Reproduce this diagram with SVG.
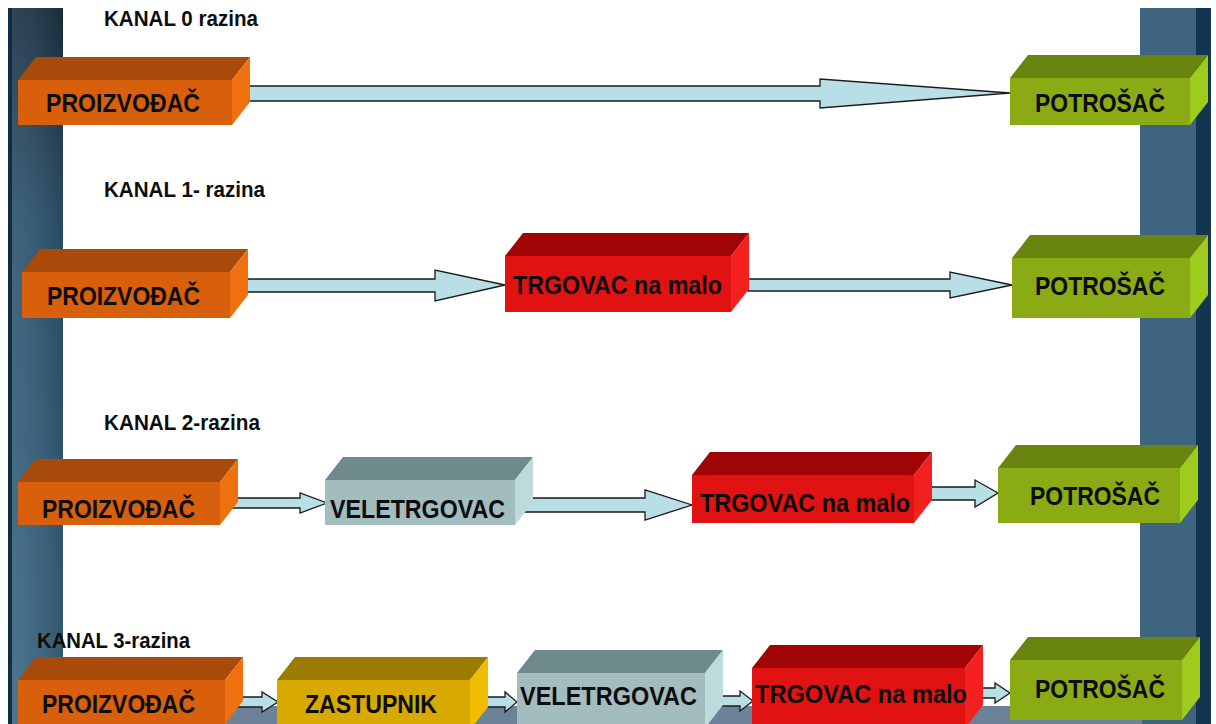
<svg xmlns="http://www.w3.org/2000/svg" width="1216" height="724" viewBox="0 0 1216 724">
<defs>
<linearGradient id="pillarL" x1="0" y1="0" x2="0" y2="1">
<stop offset="0" stop-color="#1d3446"/><stop offset="0.3" stop-color="#2f5671"/><stop offset="1" stop-color="#3d6a86"/>
</linearGradient>
<linearGradient id="pillarLh" x1="0" y1="0" x2="1" y2="0">
<stop offset="0" stop-color="#ffffff" stop-opacity="0.08"/><stop offset="1" stop-color="#000000" stop-opacity="0.15"/>
</linearGradient>
<style>
.t{font-family:"Liberation Sans",Arial,sans-serif;font-weight:bold;fill:#0d0d0d;}
.lbl{font-size:22.5px;}
.nd{font-size:26.5px;}
.arr{fill:#b8dfe5;stroke:#1a1a1a;stroke-width:1.3;stroke-linejoin:miter;}
.oF{fill:#d8600d}.oT{fill:#a84a0a}.oR{fill:#ef700f}
.rF{fill:#e01212}.rT{fill:#a00404}.rR{fill:#f42020}
.gF{fill:#8aab14}.gT{fill:#6a8410}.gR{fill:#9fcb1c}
.vF{fill:#a3bcc0}.vT{fill:#6e8a8c}.vR{fill:#bddadd}
.yF{fill:#d8a900}.yT{fill:#9b7b00}.yR{fill:#efbc00}
</style>
</defs>
<rect width="1216" height="724" fill="#ffffff"/>
<g id="background">
<rect x="8" y="8" width="55" height="716" fill="url(#pillarL)"/>
<rect x="8" y="8" width="55" height="716" fill="url(#pillarLh)"/>
<rect x="8" y="8" width="4" height="716" fill="#0f2d44"/>
<rect x="1140" y="8" width="56" height="716" fill="#3e6480"/>
<rect x="1196" y="8" width="15" height="716" fill="#143550"/>
<rect x="60" y="706" width="1082" height="18" fill="#6d8199"/>
</g>
<g class="t lbl">
<text id="lbl0" x="104" y="26" textLength="154" lengthAdjust="spacingAndGlyphs">KANAL 0 razina</text>
<text id="lbl1" x="104" y="197" textLength="161" lengthAdjust="spacingAndGlyphs">KANAL 1- razina</text>
<text id="lbl2" x="104" y="430" textLength="156" lengthAdjust="spacingAndGlyphs">KANAL 2-razina</text>
<text id="lbl3" x="37" y="648" textLength="153" lengthAdjust="spacingAndGlyphs">KANAL 3-razina</text>
</g>
<g id="connectors">
<polygon class="arr" points="240,86 820,86 820,79 1010,93 820,108 820,101 240,101"/>
<polygon class="arr" points="240,279 435,279 435,270 505,285 435,301 435,292 240,292"/>
<polygon class="arr" points="748,279 950,279 950,272 1012,285 950,298 950,291 748,291"/>
<polygon class="arr" points="231,498 300,498 300,493 327,503 300,513 300,508 231,508"/>
<polygon class="arr" points="518,498 645,498 645,490 692,505 645,520 645,512 518,512"/>
<polygon class="arr" points="920,487 975,487 975,480 998,493 975,507 975,500 920,500"/>
<polygon class="arr" points="225,697 262,697 262,692 278,702 262,712 262,707 225,707"/>
<polygon class="arr" points="478,697 505,697 505,692 517,702 505,712 505,707 478,707"/>
<polygon class="arr" points="712,696 740,696 740,691 753,701 740,711 740,706 712,706"/>
<polygon class="arr" points="968,688 995,688 995,683 1010,693 995,703 995,698 968,698"/>
</g>
<g id="p0"><polygon class="oT" points="18,80 36,57 250,57 232,80"/><polygon class="oR" points="232,80 250,57 250,102 232,125"/><rect class="oF" x="18" y="80" width="214" height="45"/><text class="t nd" x="46" y="112" textLength="154" lengthAdjust="spacingAndGlyphs">PROIZVOĐAČ</text></g>
<g id="c0"><polygon class="gT" points="1010,78 1028,55 1208,55 1190,78"/><polygon class="gR" points="1190,78 1208,55 1208,102 1190,125"/><rect class="gF" x="1010" y="78" width="180" height="47"/><text class="t nd" x="1035" y="112" textLength="130" lengthAdjust="spacingAndGlyphs">POTROŠAČ</text></g>
<g id="p1"><polygon class="oT" points="22,272 40,249 248,249 230,272"/><polygon class="oR" points="230,272 248,249 248,295 230,318"/><rect class="oF" x="22" y="272" width="208" height="46"/><text class="t nd" x="47" y="305" textLength="153" lengthAdjust="spacingAndGlyphs">PROIZVOĐAČ</text></g>
<g id="t1"><polygon class="rT" points="505,256 523,233 749,233 731,256"/><polygon class="rR" points="731,256 749,233 749,289 731,312"/><rect class="rF" x="505" y="256" width="226" height="56"/><text class="t nd" x="513" y="294" textLength="209" lengthAdjust="spacingAndGlyphs">TRGOVAC na malo</text></g>
<g id="c1"><polygon class="gT" points="1012,258 1030,235 1208,235 1190,258"/><polygon class="gR" points="1190,258 1208,235 1208,295 1190,318"/><rect class="gF" x="1012" y="258" width="178" height="60"/><text class="t nd" x="1035" y="295" textLength="130" lengthAdjust="spacingAndGlyphs">POTROŠAČ</text></g>
<g id="p2"><polygon class="oT" points="18,482 36,459 238,459 220,482"/><polygon class="oR" points="220,482 238,459 238,502 220,525"/><rect class="oF" x="18" y="482" width="202" height="43"/><text class="t nd" x="42" y="518" textLength="153" lengthAdjust="spacingAndGlyphs">PROIZVOĐAČ</text></g>
<g id="v2"><polygon class="vT" points="325,480 343,457 533,457 515,480"/><polygon class="vR" points="515,480 533,457 533,502 515,525"/><rect class="vF" x="325" y="480" width="190" height="45"/><text class="t nd" x="330" y="518" textLength="175" lengthAdjust="spacingAndGlyphs">VELETRGOVAC</text></g>
<g id="t2"><polygon class="rT" points="692,475 710,452 932,452 914,475"/><polygon class="rR" points="914,475 932,452 932,500 914,523"/><rect class="rF" x="692" y="475" width="222" height="48"/><text class="t nd" x="700" y="512" textLength="210" lengthAdjust="spacingAndGlyphs">TRGOVAC na malo</text></g>
<g id="c2"><polygon class="gT" points="998,468 1016,445 1198,445 1180,468"/><polygon class="gR" points="1180,468 1198,445 1198,500 1180,523"/><rect class="gF" x="998" y="468" width="182" height="55"/><text class="t nd" x="1030" y="505" textLength="130" lengthAdjust="spacingAndGlyphs">POTROŠAČ</text></g>
<g id="p3"><polygon class="oT" points="18,680 36,657 243,657 225,680"/><polygon class="oR" points="225,680 243,657 243,701 225,724"/><rect class="oF" x="18" y="680" width="207" height="44"/><text class="t nd" x="42" y="713" textLength="153" lengthAdjust="spacingAndGlyphs">PROIZVOĐAČ</text></g>
<g id="z3"><polygon class="yT" points="277,680 295,657 488,657 470,680"/><polygon class="yR" points="470,680 488,657 488,707 470,730"/><rect class="yF" x="277" y="680" width="193" height="50"/><text class="t nd" x="305" y="713" textLength="132" lengthAdjust="spacingAndGlyphs">ZASTUPNIK</text></g>
<g id="v3"><polygon class="vT" points="517,673 535,650 723,650 705,673"/><polygon class="vR" points="705,673 723,650 723,705 705,728"/><rect class="vF" x="517" y="673" width="188" height="55"/><text class="t nd" x="520" y="705" textLength="177" lengthAdjust="spacingAndGlyphs">VELETRGOVAC</text></g>
<g id="t3"><polygon class="rT" points="752,668 770,645 983,645 965,668"/><polygon class="rR" points="965,668 983,645 983,705 965,728"/><rect class="rF" x="752" y="668" width="213" height="60"/><text class="t nd" x="755" y="703" textLength="212" lengthAdjust="spacingAndGlyphs">TRGOVAC na malo</text></g>
<g id="c3"><polygon class="gT" points="1010,660 1028,637 1200,637 1182,660"/><polygon class="gR" points="1182,660 1200,637 1200,697 1182,720"/><rect class="gF" x="1010" y="660" width="172" height="60"/><text class="t nd" x="1035" y="698" textLength="130" lengthAdjust="spacingAndGlyphs">POTROŠAČ</text></g>
</svg>
